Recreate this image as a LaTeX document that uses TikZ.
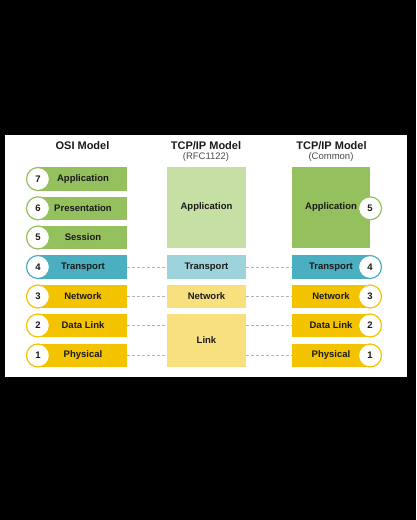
\documentclass[tikz,border=0pt]{standalone}
\usepackage{fontspec}
\setmainfont{Liberation Sans}
\definecolor{grn}{HTML}{95C05E}
\definecolor{lgrn}{HTML}{C6DFA4}
\definecolor{teal}{HTML}{4AAFC0}
\definecolor{lteal}{HTML}{9DD3DB}
\definecolor{yel}{HTML}{F3C300}
\definecolor{lyel}{HTML}{F9E07F}
\definecolor{txt}{HTML}{1A1A1A}
\begin{document}
\begin{tikzpicture}[x=1pt,y=-1pt,
  layerbox/.style={draw=none,inner sep=0pt,font=\fontsize{9.5}{11}\selectfont\bfseries,text=txt,minimum height=23.5pt},
  lbox/.style={layerbox,minimum width=88pt},
  mbox/.style={layerbox,minimum width=79pt},
  rbox/.style={layerbox,minimum width=78pt},
  numc/.style={circle,fill=white,line width=1.2pt,minimum size=23pt,inner sep=0pt,font=\fontsize{9.5}{11}\selectfont\bfseries,text=txt},
  head/.style={font=\fontsize{11}{13}\selectfont\bfseries,text=txt,inner sep=0pt},
  sub/.style={font=\fontsize{9.5}{11}\selectfont,text=black!70,inner sep=0pt},
  dashline/.style={draw=black!30,line width=0.7pt,dash pattern=on 3pt off 2pt}]
\useasboundingbox (0,0) rectangle (416,520);
\fill[black] (0,0) rectangle (416,520);
\fill[white] (5,135) rectangle (407,377);
% headers
\node[head] (h1) at (82.5,145.7) {OSI Model};
\node[head] (h2) at (206,145.5) {TCP/IP Model};
\node[sub] (s2) at (206,157) {(RFC1122)};
\node[head] (h3) at (331.5,145.5) {TCP/IP Model};
\node[sub] (s3) at (331,157) {(Common)};
% OSI column
\node[lbox,fill=grn] (l7) at (83,179) {Application};
\node[lbox,fill=grn] (l6) at (83,208.3) {Presentation};
\node[lbox,fill=grn] (l5) at (83,237.5) {Session};
\node[lbox,fill=teal] (l4) at (83,267) {Transport};
\node[lbox,fill=yel] (l3) at (83,296.5) {Network};
\node[lbox,fill=yel] (l2) at (83,325.5) {Data Link};
\node[lbox,fill=yel] (l1) at (83,355.5) {Physical};
\node[numc,draw=grn] (c7) at (38,179) {7};
\node[numc,draw=grn] (c6) at (38,208.3) {6};
\node[numc,draw=grn] (c5) at (38,237.5) {5};
\node[numc,draw=teal] (c4) at (38,267) {4};
\node[numc,draw=yel] (c3) at (38,296.5) {3};
\node[numc,draw=yel] (c2) at (38,325.5) {2};
\node[numc,draw=yel] (c1) at (38,355.5) {1};
% RFC1122 column
\node[mbox,fill=lgrn,minimum height=81pt] (ma) at (206.5,207.5) {Application};
\node[mbox,fill=lteal] (mt) at (206.5,267) {Transport};
\node[mbox,fill=lyel] (mn) at (206.5,296.5) {Network};
\node[mbox,fill=lyel,minimum height=53pt] (ml) at (206.5,340.5) {Link};
% Common column
\node[rbox,fill=grn,minimum height=81pt] (ra) at (331,207.5) {Application};
\node[rbox,fill=teal] (rt) at (331,267) {Transport};
\node[rbox,fill=yel] (rn) at (331,296.5) {Network};
\node[rbox,fill=yel] (rd) at (331,325.5) {Data Link};
\node[rbox,fill=yel] (rp) at (331,355.5) {Physical};
\node[numc,draw=grn] (q5) at (370,208.3) {5};
\node[numc,draw=teal] (q4) at (370,267) {4};
\node[numc,draw=yel] (q3) at (370,296.5) {3};
\node[numc,draw=yel] (q2) at (370,325.5) {2};
\node[numc,draw=yel] (q1) at (370,355.5) {1};
% dashed connectors
\draw[dashline] (l4.east) -- (mt.west);
\draw[dashline] (l3.east) -- (mn.west);
\draw[dashline] (l2.east) -- (l2.east -| ml.west);
\draw[dashline] (l1.east) -- (l1.east -| ml.west);
\draw[dashline] (mt.east) -- (rt.west);
\draw[dashline] (mn.east) -- (rn.west);
\draw[dashline] (rd.west -| ml.east) -- (rd.west);
\draw[dashline] (rp.west -| ml.east) -- (rp.west);
\end{tikzpicture}
\end{document}
